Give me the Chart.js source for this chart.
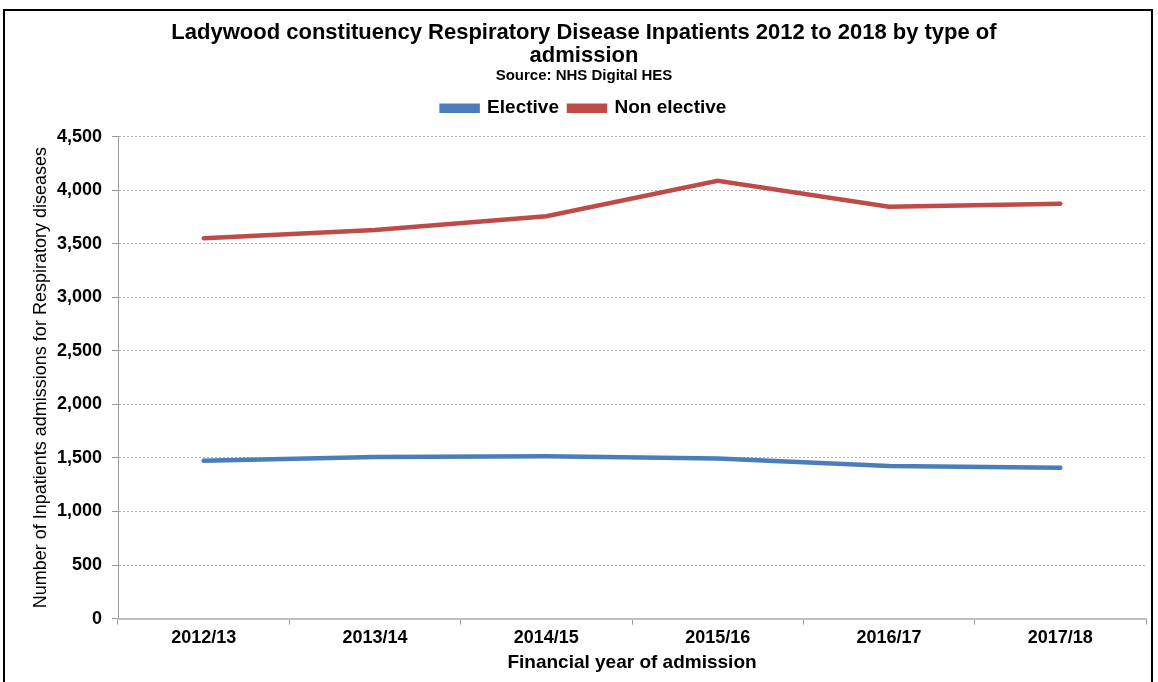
<!DOCTYPE html>
<html>
<head>
<meta charset="utf-8">
<script src="https://cdn.jsdelivr.net/npm/chart.js@4.4.1/dist/chart.umd.min.js"></script>
<style>
  html, body { margin: 0; padding: 0; background: #fff; }
  #wrap { position: relative; width: 1158px; height: 682px; overflow: hidden; }
  #frame { position: absolute; left: 3px; top: 9px; width: 1150px; height: 700px; border: 2px solid #000; box-sizing: border-box; }
  canvas { position: absolute; left: 0; top: 0; }
</style>
</head>
<body>
<div id="wrap">
  <div id="frame"></div>
  <canvas id="graphicAdmissions" width="1158" height="682"></canvas>
</div>
<script>
const years = ['2012/13', '2013/14', '2014/15', '2015/16', '2016/17', '2017/18'];
const elective = [1475, 1510, 1515, 1495, 1425, 1408];
const nonElective = [3552, 3628, 3758, 4088, 3845, 3875];
const yTicks = [0, 500, 1000, 1500, 2000, 2500, 3000, 3500, 4000, 4500];

const ctx = document.getElementById('graphicAdmissions').getContext('2d');
Chart.defaults.font.family = '"Liberation Sans", Arial, sans-serif';
Chart.defaults.color = '#000';

// push the plot area down a little below the legend
const legendGap = {
  id: 'legendGap',
  beforeInit: function(chart) {
    const fit = chart.legend.fit;
    chart.legend.fit = function() {
      fit.bind(chart.legend)();
      this.height += 9;
    };
  }
};

const chart = new Chart(ctx, {
  type: 'line',
  data: {
    labels: years,
    datasets: [{
      label: 'Elective',
      borderColor: '#4a7ebb',
      backgroundColor: '#4a7ebb',
      borderWidth: 4.5,
      borderCapStyle: 'round',
      pointRadius: 0,
      tension: 0,
      data: elective
    }, {
      label: 'Non elective',
      borderColor: '#be4b48',
      backgroundColor: '#be4b48',
      borderWidth: 4.5,
      borderCapStyle: 'round',
      pointRadius: 0,
      tension: 0,
      data: nonElective
    }]
  },
  plugins: [legendGap],
  options: {
    responsive: false,
    animation: false,
    layout: { padding: { top: 10, left: 22, right: 12, bottom: 8 } },
    plugins: {
      title: {
        display: true,
        text: ['Ladywood constituency Respiratory Disease Inpatients 2012 to 2018 by type of', 'admission'],
        font: { size: 22, weight: 'bold', lineHeight: 1.05 },
        padding: { top: 11, bottom: 0 }
      },
      subtitle: {
        display: true,
        text: 'Source: NHS Digital HES',
        font: { size: 15, weight: 'bold', lineHeight: 1.1 },
        padding: { top: 0, bottom: 5 }
      },
      legend: {
        labels: {
          boxWidth: 36,
          boxHeight: 5,
          padding: 10,
          font: { size: 19, weight: 'bold' }
        }
      },
      tooltip: { enabled: false }
    },
    scales: {
      x: {
        offset: true,
        grid: {
          offset: true,
          drawOnChartArea: false,
          drawTicks: true,
          tickLength: 6,
          tickColor: '#999'
        },
        border: { color: '#c0c0c0', width: 2 },
        ticks: { font: { size: 18, weight: 'bold' }, padding: 3 },
        title: {
          display: true,
          text: 'Financial year of admission',
          font: { size: 19, weight: 'bold' },
          padding: { top: -1, bottom: 0 }
        }
      },
      y: {
        min: 0,
        max: 4500,
        afterBuildTicks: function(axis) {
          axis.ticks = yTicks.map(function(v) { return { value: v }; });
        },
        afterFit: function(axis) {
          axis.width = 96;
        },
        grid: {
          color: '#b0b0b0',
          tickBorderDash: [],
          tickColor: '#999',
          tickLength: 6
        },
        border: { color: '#999', width: 1, dash: [2, 2] },
        ticks: {
          font: { size: 18, weight: 'bold' },
          padding: 10,
          callback: function(v) { return v.toLocaleString('en-GB'); }
        },
        title: {
          display: true,
          text: 'Number of Inpatients admissions for Respiratory diseases',
          font: { size: 18 },
          padding: { top: 8, bottom: 0 }
        }
      }
    }
  }
});
</script>
</body>
</html>
